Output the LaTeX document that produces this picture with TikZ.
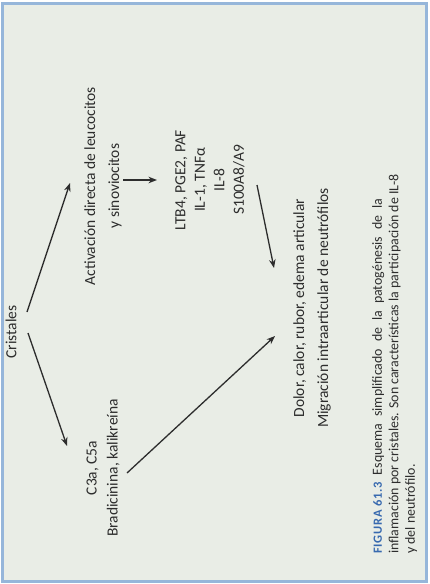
\documentclass[tikz,border=0pt]{standalone}
\usepackage{fontspec}
\setmainfont{Carlito}
\usetikzlibrary{arrows.meta, calc}
\definecolor{pagecol}{RGB}{233, 237, 230}
\definecolor{framecol}{RGB}{150, 182, 218}
\definecolor{inkcol}{RGB}{45, 45, 45}
\definecolor{capcol}{RGB}{55, 105, 175}
\tikzset{
  txt/.style  = {rotate=90, align=center, text=inkcol, inner sep=0pt,
                 font=\fontsize{15.5}{24}\selectfont},
  cyto/.style = {txt, font=\fontsize{15.5}{19.5}\selectfont},
  pair/.style = {txt, font=\fontsize{15.5}{21}\selectfont},
  capt/.style = {rotate=90, align=left, text=inkcol, inner sep=0pt,
                 font=\fontsize{13.9}{16.5}\selectfont},
  flow/.style = {-{Stealth[length=3mm, width=2.3mm]}, draw=inkcol,
                 line width=1.3pt},
  % the step from cells to mediators is printed heavier
  push/.style = {flow, line width=2.4pt},
}

\begin{document}
\begin{tikzpicture}[x=1pt, y=-1pt]

  %% ---------------- page and frame ----------------
  \useasboundingbox (0,0) rectangle (429,584);
  \fill[white] (0,0) rectangle (429,584);
  \draw[framecol, line width=3pt, fill=pagecol] (2,3) rectangle (426,581);

  %% ---------------- texts ----------------
  \node[txt]  (crist) at (11,332)  {Cristales};
  \node[txt]  (activ) at (103,186) {Activación directa de leucocitos\\y sinoviocitos};
  \node[cyto] (cytok) at (210,180) {LTB4, PGE2, PAF\\IL-1, TNFα\\IL-8\\S100A8/A9};
  \node[pair] (c3a)   at (103,468) {C3a, C5a\\Bradicinina, kalikreína};
  \node[txt]  (sint)  at (312,308)
       {Dolor, calor, rubor, edema articular\\Migración intraarticular de neutrófilos};

  \node[capt, anchor=north west] (capt) at (372,554)
       {{\color{capcol}\fontsize{12.5}{16.5}\selectfont\bfseries
         \addfontfeature{LetterSpace=6}FIGURA 61.3}\enspace
        {\spaceskip=0.5em Esquema simplificado de la patogénesis de la}\\
        inflamación por cristales. Son características la participación de IL-8\\
        y del neutrófilo.};

  %% ---------------- arrows ----------------
  \draw[flow] ($(crist)+(16,-20)$) -- ($(activ)+(-33,-3)$);
  \draw[flow] ($(crist)+(17,1)$)   -- ($(c3a)+(-36,-22)$);
  \draw[push] ($(activ)+(20,-6)$)  -- ($(cytok)+(-53,0)$);
  \draw[flow] ($(cytok)+(47,5)$)   -- ($(sint)+(-38,-40)$);
  \draw[flow] ($(c3a)+(24,5)$)     -- ($(sint)+(-37,28)$);

\end{tikzpicture}
\end{document}
